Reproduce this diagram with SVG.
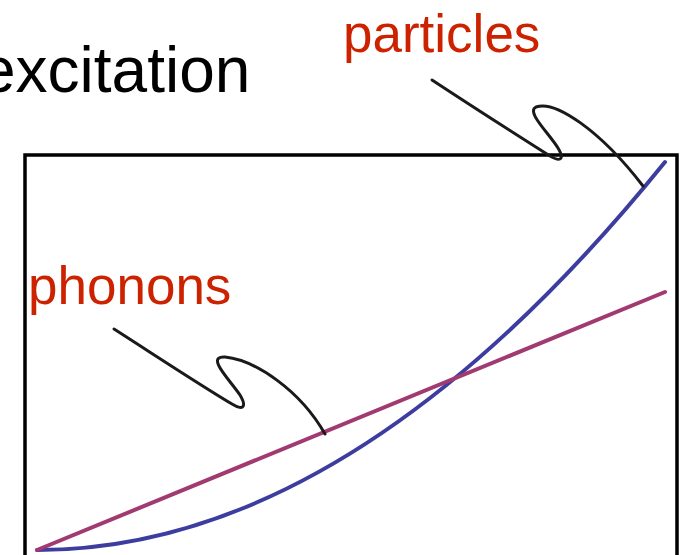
<svg xmlns="http://www.w3.org/2000/svg" width="681" height="555" viewBox="0 0 681 555">
<style>
.lbl{font-family:"Liberation Sans",Arial,Helvetica,sans-serif;}
.red{fill:#cc2200;}
.ptr{fill:none;stroke:#1a1a1a;stroke-width:3;stroke-linecap:round;stroke-linejoin:round;}
</style>
<rect width="681" height="555" fill="#ffffff"/>
<g id="title">
<text class="lbl" x="-20" y="92" font-size="64" fill="#000000">excitation</text>
</g>
<g id="frame">
<rect x="25" y="155" width="652" height="420" fill="none" stroke="#000000" stroke-width="3.5"/>
</g>
<g id="curves">
<path id="particles-curve" d="M37,550 Q351,550 665,162" fill="none" stroke="#3d3da0" stroke-width="4" stroke-linecap="round"/>
<path id="phonons-line" d="M37,550 L665,292" fill="none" stroke="#a23a72" stroke-width="4" stroke-linecap="round"/>
</g>
<g id="connectors">
<path class="ptr" d="M432,80 C470,105 520,137 550,156 C562,163 564,158 558,148 C548,132 526,112 536,107 C555,100 600,130 643,186"/>
<path class="ptr" d="M114,329 C150,352 200,385 232,404 C245,412 246,405 240,395 C230,380 205,356 225,357 C255,360 300,390 325,434"/>
</g>
<g id="particles">
<text class="lbl red" x="343" y="52" font-size="53">particles</text>
</g>
<g id="phonons">
<text class="lbl red" x="28" y="304" font-size="53">phonons</text>
</g>
</svg>
